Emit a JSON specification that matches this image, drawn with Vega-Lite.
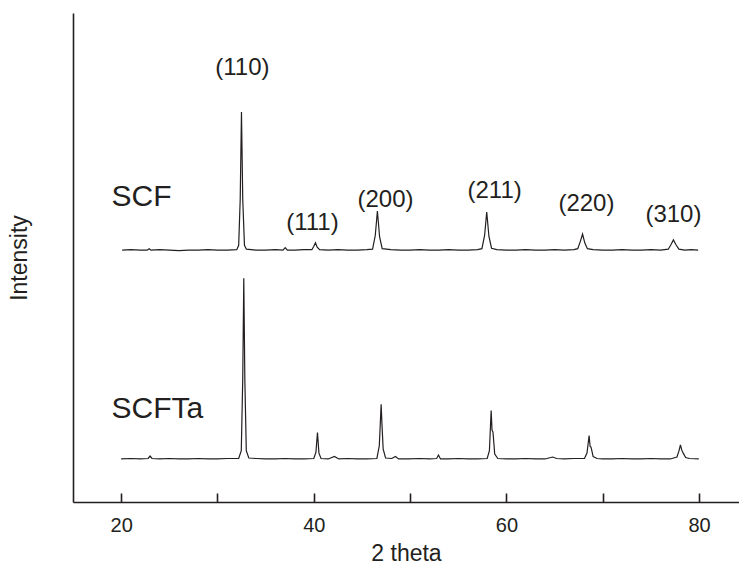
{
  "$schema": "https://vega.github.io/schema/vega-lite/v6.json",
  "width": 666,
  "height": 489,
  "autosize": "none",
  "padding": {"left": 73, "top": 13, "right": 0, "bottom": 70},
  "background": "white",
  "config": {
    "view": {"stroke": null},
    "font": "Liberation Sans",
    "axis": {"grid": false, "domainColor": "#231f20", "domainWidth": 1.6, "titleFontWeight": "normal", "titleColor": "#231f20", "labelColor": "#231f20", "titleFont": "Liberation Sans", "labelFont": "Liberation Sans"}
  },
  "datasets": {
    "xrd": [
      {"sample": "SCF", "theta": 20.1, "intensity": 51.5},
      {"sample": "SCF", "theta": 21, "intensity": 51.6},
      {"sample": "SCF", "theta": 22, "intensity": 51.5},
      {"sample": "SCF", "theta": 22.7, "intensity": 51.5},
      {"sample": "SCF", "theta": 22.9, "intensity": 51.8},
      {"sample": "SCF", "theta": 23.1, "intensity": 51.5},
      {"sample": "SCF", "theta": 24, "intensity": 51.6},
      {"sample": "SCF", "theta": 25, "intensity": 51.5},
      {"sample": "SCF", "theta": 26, "intensity": 51.4},
      {"sample": "SCF", "theta": 27, "intensity": 51.5},
      {"sample": "SCF", "theta": 28, "intensity": 51.5},
      {"sample": "SCF", "theta": 29, "intensity": 51.6},
      {"sample": "SCF", "theta": 30, "intensity": 51.5},
      {"sample": "SCF", "theta": 31, "intensity": 51.5},
      {"sample": "SCF", "theta": 32.0, "intensity": 51.6},
      {"sample": "SCF", "theta": 32.2, "intensity": 52.5},
      {"sample": "SCF", "theta": 32.36, "intensity": 62},
      {"sample": "SCF", "theta": 32.49, "intensity": 79.75},
      {"sample": "SCF", "theta": 32.62, "intensity": 62},
      {"sample": "SCF", "theta": 32.8, "intensity": 52.5},
      {"sample": "SCF", "theta": 33.0, "intensity": 51.7},
      {"sample": "SCF", "theta": 34, "intensity": 51.5},
      {"sample": "SCF", "theta": 35, "intensity": 51.5},
      {"sample": "SCF", "theta": 36, "intensity": 51.6},
      {"sample": "SCF", "theta": 36.8, "intensity": 51.5},
      {"sample": "SCF", "theta": 37.03, "intensity": 52.0},
      {"sample": "SCF", "theta": 37.25, "intensity": 51.5},
      {"sample": "SCF", "theta": 38, "intensity": 51.5},
      {"sample": "SCF", "theta": 39, "intensity": 51.6},
      {"sample": "SCF", "theta": 39.8, "intensity": 51.6},
      {"sample": "SCF", "theta": 40.0, "intensity": 52.3},
      {"sample": "SCF", "theta": 40.17, "intensity": 53.0},
      {"sample": "SCF", "theta": 40.35, "intensity": 52.1},
      {"sample": "SCF", "theta": 40.6, "intensity": 51.6},
      {"sample": "SCF", "theta": 41.5, "intensity": 51.5},
      {"sample": "SCF", "theta": 42.5, "intensity": 51.6},
      {"sample": "SCF", "theta": 43.5, "intensity": 51.5},
      {"sample": "SCF", "theta": 44.5, "intensity": 51.5},
      {"sample": "SCF", "theta": 45.5, "intensity": 51.6},
      {"sample": "SCF", "theta": 46.1, "intensity": 51.7},
      {"sample": "SCF", "theta": 46.38, "intensity": 54.5},
      {"sample": "SCF", "theta": 46.6, "intensity": 59.5},
      {"sample": "SCF", "theta": 46.83, "intensity": 54.2},
      {"sample": "SCF", "theta": 47.1, "intensity": 51.8},
      {"sample": "SCF", "theta": 48, "intensity": 51.6},
      {"sample": "SCF", "theta": 49, "intensity": 51.5},
      {"sample": "SCF", "theta": 50, "intensity": 51.5},
      {"sample": "SCF", "theta": 51, "intensity": 51.6},
      {"sample": "SCF", "theta": 52, "intensity": 51.5},
      {"sample": "SCF", "theta": 53, "intensity": 51.5},
      {"sample": "SCF", "theta": 54, "intensity": 51.6},
      {"sample": "SCF", "theta": 55, "intensity": 51.5},
      {"sample": "SCF", "theta": 56, "intensity": 51.5},
      {"sample": "SCF", "theta": 57.0, "intensity": 51.6},
      {"sample": "SCF", "theta": 57.45, "intensity": 51.8},
      {"sample": "SCF", "theta": 57.73, "intensity": 54.5},
      {"sample": "SCF", "theta": 57.95, "intensity": 59.3},
      {"sample": "SCF", "theta": 58.18, "intensity": 54.3},
      {"sample": "SCF", "theta": 58.45, "intensity": 51.9},
      {"sample": "SCF", "theta": 59, "intensity": 51.6},
      {"sample": "SCF", "theta": 60, "intensity": 51.5},
      {"sample": "SCF", "theta": 61, "intensity": 51.5},
      {"sample": "SCF", "theta": 62, "intensity": 51.6},
      {"sample": "SCF", "theta": 63, "intensity": 51.5},
      {"sample": "SCF", "theta": 64, "intensity": 51.5},
      {"sample": "SCF", "theta": 65, "intensity": 51.6},
      {"sample": "SCF", "theta": 66, "intensity": 51.5},
      {"sample": "SCF", "theta": 67.0, "intensity": 51.6},
      {"sample": "SCF", "theta": 67.4, "intensity": 51.8},
      {"sample": "SCF", "theta": 67.67, "intensity": 53.3},
      {"sample": "SCF", "theta": 67.9, "intensity": 54.8},
      {"sample": "SCF", "theta": 68.13, "intensity": 53.0},
      {"sample": "SCF", "theta": 68.4, "intensity": 51.8},
      {"sample": "SCF", "theta": 69, "intensity": 51.6},
      {"sample": "SCF", "theta": 70, "intensity": 51.5},
      {"sample": "SCF", "theta": 71, "intensity": 51.5},
      {"sample": "SCF", "theta": 72, "intensity": 51.6},
      {"sample": "SCF", "theta": 73, "intensity": 51.5},
      {"sample": "SCF", "theta": 74, "intensity": 51.5},
      {"sample": "SCF", "theta": 75, "intensity": 51.6},
      {"sample": "SCF", "theta": 76, "intensity": 51.5},
      {"sample": "SCF", "theta": 76.8, "intensity": 51.7},
      {"sample": "SCF", "theta": 77.1, "intensity": 52.7},
      {"sample": "SCF", "theta": 77.33, "intensity": 53.6},
      {"sample": "SCF", "theta": 77.6, "intensity": 52.6},
      {"sample": "SCF", "theta": 77.9, "intensity": 51.7},
      {"sample": "SCF", "theta": 78.5, "intensity": 51.5},
      {"sample": "SCF", "theta": 79.2, "intensity": 51.6},
      {"sample": "SCF", "theta": 79.9, "intensity": 51.5},
      {"sample": "SCFTa", "theta": 20.0, "intensity": 8.8},
      {"sample": "SCFTa", "theta": 21, "intensity": 8.9},
      {"sample": "SCFTa", "theta": 22, "intensity": 8.8},
      {"sample": "SCFTa", "theta": 22.8, "intensity": 8.9},
      {"sample": "SCFTa", "theta": 23.0, "intensity": 9.4},
      {"sample": "SCFTa", "theta": 23.2, "intensity": 8.9},
      {"sample": "SCFTa", "theta": 24, "intensity": 8.8},
      {"sample": "SCFTa", "theta": 25, "intensity": 8.9},
      {"sample": "SCFTa", "theta": 26, "intensity": 8.8},
      {"sample": "SCFTa", "theta": 27, "intensity": 8.8},
      {"sample": "SCFTa", "theta": 28, "intensity": 8.9},
      {"sample": "SCFTa", "theta": 29, "intensity": 8.8},
      {"sample": "SCFTa", "theta": 30, "intensity": 8.8},
      {"sample": "SCFTa", "theta": 31, "intensity": 8.9},
      {"sample": "SCFTa", "theta": 32.2, "intensity": 8.9},
      {"sample": "SCFTa", "theta": 32.47, "intensity": 10.5},
      {"sample": "SCFTa", "theta": 32.62, "intensity": 25},
      {"sample": "SCFTa", "theta": 32.73, "intensity": 45.75},
      {"sample": "SCFTa", "theta": 32.84, "intensity": 25},
      {"sample": "SCFTa", "theta": 32.99, "intensity": 10.5},
      {"sample": "SCFTa", "theta": 33.25, "intensity": 9.0},
      {"sample": "SCFTa", "theta": 34, "intensity": 8.9},
      {"sample": "SCFTa", "theta": 35, "intensity": 8.8},
      {"sample": "SCFTa", "theta": 36, "intensity": 8.8},
      {"sample": "SCFTa", "theta": 37, "intensity": 8.9},
      {"sample": "SCFTa", "theta": 38, "intensity": 8.8},
      {"sample": "SCFTa", "theta": 39, "intensity": 8.8},
      {"sample": "SCFTa", "theta": 40.0, "intensity": 8.9},
      {"sample": "SCFTa", "theta": 40.22, "intensity": 10.2},
      {"sample": "SCFTa", "theta": 40.38, "intensity": 14.2},
      {"sample": "SCFTa", "theta": 40.53, "intensity": 10.0},
      {"sample": "SCFTa", "theta": 40.75, "intensity": 8.9},
      {"sample": "SCFTa", "theta": 41.5, "intensity": 8.8},
      {"sample": "SCFTa", "theta": 42.14, "intensity": 9.3},
      {"sample": "SCFTa", "theta": 42.6, "intensity": 8.8},
      {"sample": "SCFTa", "theta": 43.5, "intensity": 8.9},
      {"sample": "SCFTa", "theta": 44.5, "intensity": 8.8},
      {"sample": "SCFTa", "theta": 45.5, "intensity": 8.8},
      {"sample": "SCFTa", "theta": 46.55, "intensity": 8.9},
      {"sample": "SCFTa", "theta": 46.8, "intensity": 11.5},
      {"sample": "SCFTa", "theta": 46.99, "intensity": 20.0},
      {"sample": "SCFTa", "theta": 47.06, "intensity": 16.5},
      {"sample": "SCFTa", "theta": 47.2, "intensity": 10.8},
      {"sample": "SCFTa", "theta": 47.45, "intensity": 9.0},
      {"sample": "SCFTa", "theta": 48.1, "intensity": 8.9},
      {"sample": "SCFTa", "theta": 48.47, "intensity": 9.3},
      {"sample": "SCFTa", "theta": 48.8, "intensity": 8.8},
      {"sample": "SCFTa", "theta": 49.8, "intensity": 8.8},
      {"sample": "SCFTa", "theta": 51, "intensity": 8.9},
      {"sample": "SCFTa", "theta": 52, "intensity": 8.8},
      {"sample": "SCFTa", "theta": 52.75, "intensity": 8.9},
      {"sample": "SCFTa", "theta": 52.94, "intensity": 9.6},
      {"sample": "SCFTa", "theta": 53.15, "intensity": 8.8},
      {"sample": "SCFTa", "theta": 54, "intensity": 8.8},
      {"sample": "SCFTa", "theta": 55, "intensity": 8.9},
      {"sample": "SCFTa", "theta": 56, "intensity": 8.8},
      {"sample": "SCFTa", "theta": 57, "intensity": 8.8},
      {"sample": "SCFTa", "theta": 58.0, "intensity": 8.9},
      {"sample": "SCFTa", "theta": 58.23, "intensity": 10.5},
      {"sample": "SCFTa", "theta": 58.41, "intensity": 18.7},
      {"sample": "SCFTa", "theta": 58.5, "intensity": 14.7},
      {"sample": "SCFTa", "theta": 58.6, "intensity": 14.3},
      {"sample": "SCFTa", "theta": 58.78, "intensity": 9.8},
      {"sample": "SCFTa", "theta": 59.1, "intensity": 8.9},
      {"sample": "SCFTa", "theta": 60, "intensity": 8.8},
      {"sample": "SCFTa", "theta": 61, "intensity": 8.8},
      {"sample": "SCFTa", "theta": 62, "intensity": 8.9},
      {"sample": "SCFTa", "theta": 63, "intensity": 8.8},
      {"sample": "SCFTa", "theta": 64, "intensity": 8.8},
      {"sample": "SCFTa", "theta": 64.4, "intensity": 9.0},
      {"sample": "SCFTa", "theta": 64.8, "intensity": 9.2},
      {"sample": "SCFTa", "theta": 65.2, "intensity": 8.9},
      {"sample": "SCFTa", "theta": 66, "intensity": 8.8},
      {"sample": "SCFTa", "theta": 67, "intensity": 8.9},
      {"sample": "SCFTa", "theta": 68.1, "intensity": 8.9},
      {"sample": "SCFTa", "theta": 68.36, "intensity": 10.0},
      {"sample": "SCFTa", "theta": 68.58, "intensity": 13.6},
      {"sample": "SCFTa", "theta": 68.68, "intensity": 11.4},
      {"sample": "SCFTa", "theta": 68.78, "intensity": 11.2},
      {"sample": "SCFTa", "theta": 69.0, "intensity": 9.3},
      {"sample": "SCFTa", "theta": 69.4, "intensity": 8.9},
      {"sample": "SCFTa", "theta": 70, "intensity": 8.8},
      {"sample": "SCFTa", "theta": 71, "intensity": 8.8},
      {"sample": "SCFTa", "theta": 72, "intensity": 8.9},
      {"sample": "SCFTa", "theta": 73, "intensity": 8.8},
      {"sample": "SCFTa", "theta": 74, "intensity": 8.8},
      {"sample": "SCFTa", "theta": 75, "intensity": 8.9},
      {"sample": "SCFTa", "theta": 76, "intensity": 8.8},
      {"sample": "SCFTa", "theta": 77.0, "intensity": 8.8},
      {"sample": "SCFTa", "theta": 77.7, "intensity": 9.2},
      {"sample": "SCFTa", "theta": 77.9, "intensity": 10.4},
      {"sample": "SCFTa", "theta": 78.06, "intensity": 11.7},
      {"sample": "SCFTa", "theta": 78.2, "intensity": 10.6},
      {"sample": "SCFTa", "theta": 78.35, "intensity": 10.0},
      {"sample": "SCFTa", "theta": 78.6, "intensity": 9.1},
      {"sample": "SCFTa", "theta": 79, "intensity": 8.9},
      {"sample": "SCFTa", "theta": 79.96, "intensity": 8.8}
    ],
    "hkl": [
      {"label": "(110)", "theta": 32.59, "intensity": 88.75},
      {"label": "(111)", "theta": 39.86, "intensity": 57.06},
      {"label": "(200)", "theta": 47.44, "intensity": 61.76},
      {"label": "(211)", "theta": 58.77, "intensity": 63.6},
      {"label": "(220)", "theta": 68.3, "intensity": 60.94},
      {"label": "(310)", "theta": 77.33, "intensity": 58.69}
    ],
    "names": [
      {"label": "SCF", "theta": 19.0, "intensity": 62.37},
      {"label": "SCFTa", "theta": 19.0, "intensity": 19.02}
    ]
  },
  "layer": [
    {
      "data": {"name": "xrd"},
      "mark": {"type": "line", "color": "#231f20", "strokeWidth": 1.2, "clip": true},
      "encoding": {
        "x": {
          "field": "theta", "type": "quantitative",
          "scale": {"domain": [15, 84.14], "nice": false, "zero": false},
          "axis": {
            "title": "2 theta", "titleFontSize": 23, "titlePadding": 7,
            "values": [20, 30, 40, 50, 60, 70, 80],
            "labelExpr": "datum.value % 20 === 0 ? datum.label : ''",
            "labelFontSize": 20, "labelPadding": 22,
            "tickColor": "#231f20", "tickWidth": 1.6, "tickSize": -9,
            "encode": {"ticks": {"update": {"y2": {"signal": "datum.value % 20 === 0 ? -9 : -5"}}}}
          }
        },
        "y": {
          "field": "intensity", "type": "quantitative",
          "scale": {"domain": [0, 100], "nice": false},
          "axis": {"title": "Intensity", "titleFontSize": 23, "ticks": false, "labels": false, "titlePadding": 42}
        },
        "detail": {"field": "sample", "type": "nominal"}
      }
    },
    {
      "mark": {"type": "rule", "color": "#231f20", "strokeWidth": 1.6},
      "encoding": {"y": {"datum": 100}}
    },
    {
      "data": {"name": "hkl"},
      "mark": {"type": "text", "fontSize": 24, "color": "#231f20", "align": "center", "baseline": "middle", "font": "Liberation Sans"},
      "encoding": {
        "x": {"field": "theta", "type": "quantitative"},
        "y": {"field": "intensity", "type": "quantitative"},
        "text": {"field": "label"}
      }
    },
    {
      "data": {"name": "names"},
      "mark": {"type": "text", "fontSize": 30, "color": "#231f20", "align": "left", "baseline": "middle", "font": "Liberation Sans"},
      "encoding": {
        "x": {"field": "theta", "type": "quantitative"},
        "y": {"field": "intensity", "type": "quantitative"},
        "text": {"field": "label"}
      }
    }
  ]
}
